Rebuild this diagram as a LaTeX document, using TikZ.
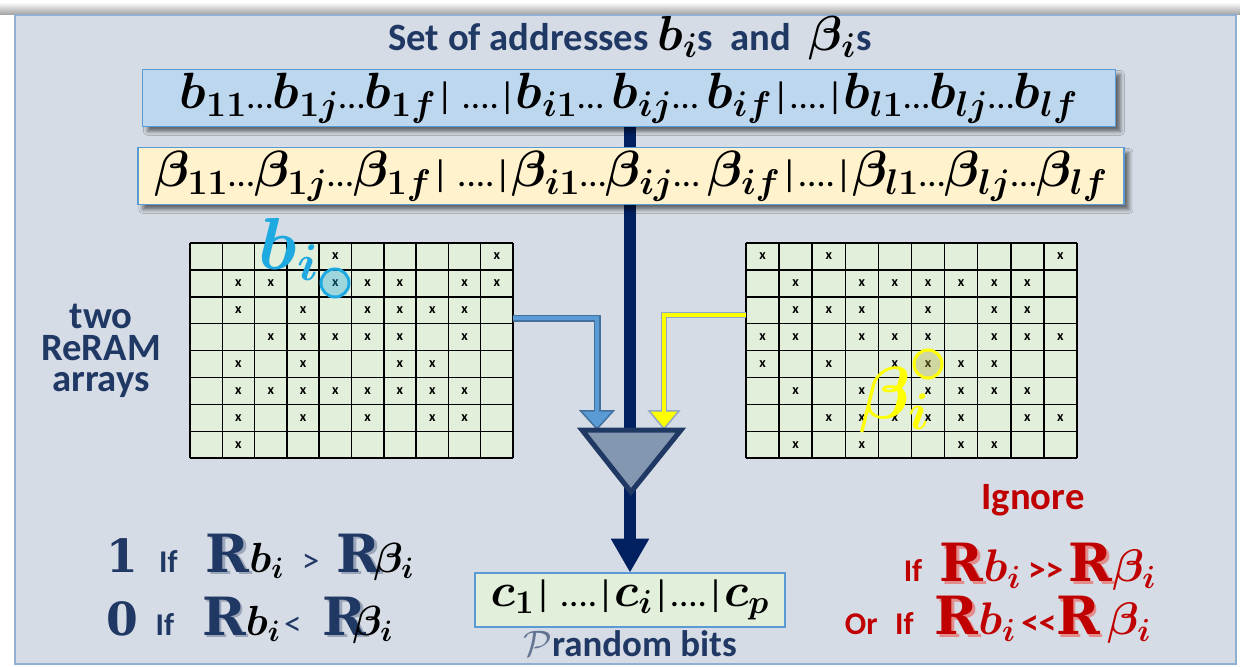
\RequirePackage{fix-cm}
\documentclass[tikz,border=0pt]{standalone}
\usepackage{fontspec}
\setmainfont{Carlito}
\newfontfamily\slabfont{DejaVu Serif}
\usepackage{amsmath}
\usepackage{bm}
\usetikzlibrary{arrows.meta,shadows.blur}

\definecolor{panelgrey}{HTML}{D6DCE5}
\definecolor{paneledge}{HTML}{8FAFD3}
\definecolor{titlenavy}{HTML}{203864}
\definecolor{barblue}{HTML}{BDD7EE}
\definecolor{baredge}{HTML}{5B9BD5}
\definecolor{baryellow}{HTML}{FFF2CC}
\definecolor{cellgreen}{HTML}{E2EFDA}
\definecolor{mainnavy}{HTML}{002060}
\definecolor{cmpfill}{HTML}{8497B0}
\definecolor{cmpedge}{HTML}{1F3864}
\definecolor{flowblue}{HTML}{5B9BD5}
\definecolor{flowedge}{HTML}{41719C}
\definecolor{flowyellow}{HTML}{FFFF00}
\definecolor{yellowedge}{HTML}{8EA9C1}
\definecolor{ringblue}{HTML}{1FA9E1}
\definecolor{ignorered}{HTML}{C00000}

\newdimen\pxu \pxu=0.02cm
\newcommand\smalltxt[1]{{\fontsize{21}{21}\selectfont\mdseries #1}}
\newcommand\mathbig{\fontsize{28}{28}\selectfont}
\newcommand\engR[1]{{\slabfont\bfseries\makebox[0pt][l]{\hspace{1.5pt}\raisebox{-1.5pt}{\color{#1!45}R}}{\color{#1}R}}}
\newcommand\blk[1]{\textcolor{black}{$\bm{#1}$}}
\newcommand\relsz[1]{{\fontsize{20}{20}\selectfont\mdseries #1}}

\begin{document}
\begin{tikzpicture}[x=0.02cm,y=-0.02cm,
    addrbar/.style={draw=baredge,line width=1.5\pxu,minimum height=57\pxu,inner sep=0pt,
      font=\fontsize{29}{29}\selectfont,
      blur shadow={shadow xshift=2.8pt,shadow yshift=-2.8pt,shadow blur radius=2.3pt,shadow opacity=55}},
    gridline/.style={black,line width=1.5\pxu},
    xmark/.style={font=\fontsize{8}{8}\selectfont\bfseries,inner sep=0pt},
    navytext/.style={text=titlenavy,font=\fontsize{22}{18}\selectfont\bfseries,align=center},
    redtext/.style={text=ignorered,font=\fontsize{18}{19}\selectfont\bfseries},
    ring/.style={circle,minimum size=28\pxu,inner sep=0pt,line width=3\pxu}]

    \useasboundingbox (0,0) rectangle (1240,666);
    \fill[white] (0,0) rectangle (1240,666);
    \shade[top color=white,bottom color=black!35] (0,2) rectangle (1240,14);
    \filldraw[fill=panelgrey,draw=paneledge,line width=2.5\pxu] (15,15) rectangle (1236,664);

    % Main data line
    \node[inner sep=0pt,minimum width=310\pxu,minimum height=54\pxu] (cbits) at (630,600) {};
    \coordinate (topin) at (630,127);
    \draw[mainnavy,line width=12\pxu,-{Triangle[width=20.4pt,length=19.3pt]}] (topin) -- (cbits.north);

    % Address bars
    \node[addrbar,fill=barblue,minimum width=973\pxu] (bbar) at (629,98)
      {$\bm{b_{11}}$\smalltxt{…}$\bm{b_{1j}}$\smalltxt{…}$\bm{b_{1f}}$\smalltxt{| ....|}$\bm{b_{i1}}$\smalltxt{… }$\bm{b_{ij}}$\smalltxt{… }$\bm{b_{if}}$\smalltxt{|....|}$\bm{b_{l1}}$\smalltxt{…}$\bm{b_{lj}}$\smalltxt{…}$\bm{b_{lf}}$};
    \node[addrbar,fill=baryellow,minimum width=986\pxu] (betabar) at (631,176)
      {$\bm{\beta_{11}}$\smalltxt{…}$\bm{\beta_{1j}}$\smalltxt{…}$\bm{\beta_{1f}}$\smalltxt{| ....|}$\bm{\beta_{i1}}$\smalltxt{…}$\bm{\beta_{ij}}$\smalltxt{… }$\bm{\beta_{if}}$\smalltxt{|....|}$\bm{\beta_{l1}}$\smalltxt{…}$\bm{\beta_{lj}}$\smalltxt{…}$\bm{\beta_{lf}}$};

    % Title
    \node[navytext] (title) at (630,38)
      {Set of addresses {\mathbig\blk{b_i}}s\ \ and\ \ {\mathbig\blk{\beta_i}}s};

    % Left ReRAM array
    \node[fill=cellgreen,inner sep=0pt,minimum width=323\pxu,minimum height=215\pxu] (leftarr) at (351.5,350.5) {};
    \foreach \c in {0,...,10}
        \draw[gridline] (190+\c*32.3,243) -- (190+\c*32.3,458);
    \foreach \r in {0,...,8}
        \draw[gridline] (190,243+\r*26.9) -- (513,243+\r*26.9);
    \foreach \c/\r in {4/0,9/0,1/1,2/1,4/1,5/1,6/1,8/1,9/1,1/2,3/2,5/2,6/2,7/2,8/2,
                       2/3,3/3,4/3,5/3,6/3,8/3,1/4,3/4,6/4,7/4,1/5,2/5,3/5,4/5,5/5,6/5,7/5,8/5,
                       1/6,3/6,5/6,7/6,8/6,1/7}
        \node[xmark] (lx\c\r) at ({206.15+\c*32.3},{256.45+\r*26.9}) {x};

    % Right ReRAM array
    \node[fill=cellgreen,inner sep=0pt,minimum width=331\pxu,minimum height=215\pxu] (rightarr) at (911.5,350.5) {};
    \foreach \c in {0,...,10}
        \draw[gridline] (746+\c*33.1,243) -- (746+\c*33.1,458);
    \foreach \r in {0,...,8}
        \draw[gridline] (746,243+\r*26.9) -- (1077,243+\r*26.9);
    \foreach \c/\r in {0/0,2/0,9/0,1/1,3/1,4/1,5/1,6/1,7/1,8/1,1/2,2/2,3/2,5/2,7/2,8/2,
                       0/3,1/3,3/3,4/3,5/3,7/3,8/3,9/3,0/4,2/4,4/4,5/4,6/4,7/4,
                       1/5,3/5,5/5,6/5,7/5,8/5,2/6,3/6,4/6,5/6,6/6,8/6,9/6,1/7,3/7,6/7,7/7}
        \node[xmark] (rx\c\r) at ({762.55+\c*33.1},{256.45+\r*26.9}) {x};

    % Selected cells
    \node[ring,draw=ringblue,fill=ringblue,fill opacity=0.35,draw opacity=1] (bring) at (335,283) {};
    \node[text=ringblue,font=\fontsize{42}{42}\selectfont,inner sep=0pt] (blabel) at (289,249) {$\bm{b_i}$};
    \node[ring,draw=flowyellow,fill=olive!70,fill opacity=0.35,draw opacity=1] (betaring) at (928,364) {};
    \node[text=flowyellow,font=\fontsize{42}{42}\selectfont,inner sep=0pt] (betalabel) at (895,400) {$\bm{\beta_i}$};

    % Comparator
    \coordinate (cmpL) at (582,430);
    \coordinate (cmpR) at (681,430);
    \coordinate (cmpT) at (631,492);
    \coordinate (cmpinL) at (597,430);
    \coordinate (cmpinR) at (664,430);
    \coordinate (lout) at (513,318);
    \coordinate (rout) at (746,315);

    \draw[flowedge,line width=7\pxu,-{Triangle[width=20.4pt,length=11.3pt,fill=flowblue,line width=0.85pt]}] (lout) -| (cmpinL);
    \draw[flowblue,line width=4\pxu,shorten >=17\pxu] (lout) -| (cmpinL);
    \draw[yellowedge,line width=6\pxu,-{Triangle[width=18.7pt,length=11.3pt,fill=flowyellow,line width=0.85pt]}] (rout) -| (cmpinR);
    \draw[flowyellow,line width=3.5\pxu,shorten >=17\pxu] (rout) -| (cmpinR);

    \filldraw[fill=cmpfill,draw=cmpedge,line width=5\pxu,line join=miter] (cmpL) -- (cmpR) -- (cmpT) -- cycle;

    % Output bits
    \node[fill=cellgreen,draw=baredge,line width=1.5\pxu,minimum width=310\pxu,minimum height=54\pxu,
          font=\fontsize{27}{27}\selectfont] (cbox) at (cbits)
      {$\bm{c_1}$\smalltxt{| ....|}$\bm{c_i}$\smalltxt{|....|}$\bm{c_p}$};
    \node[navytext,font=\fontsize{21}{18}\selectfont\bfseries] (plabel) at (630,644)
      {\textcolor{titlenavy!70}{$\mathcal{P}$}random bits};

    % Side labels
    \node[navytext] (arrlabel) at (101,351) {two\\ReRAM\\arrays};

    \node[text=titlenavy,font=\fontsize{18}{18}\selectfont\bfseries,anchor=west] (ruleone) at (100,557)
      {{\slabfont\fontsize{26}{26}\selectfont 1}\hspace{12pt}If\hspace{16pt}{\fontsize{30}{30}\selectfont\engR{titlenavy}\fontsize{24}{24}\selectfont\blk{b_i}}\hspace{10pt}\relsz{>}\hspace{10pt}{\fontsize{30}{30}\selectfont\engR{titlenavy}\hspace{-4pt}\fontsize{24}{24}\selectfont\blk{\beta_i}}};
    \node[text=titlenavy,font=\fontsize{18}{18}\selectfont\bfseries,anchor=west] (rulezero) at (100,620)
      {{\slabfont\fontsize{26}{26}\selectfont 0}\hspace{10pt}If\hspace{16pt}{\fontsize{30}{30}\selectfont\engR{titlenavy}\fontsize{24}{24}\selectfont\blk{b_i}}\hspace{2pt}\relsz{<}\hspace{12pt}{\fontsize{30}{30}\selectfont\engR{titlenavy}\hspace{-8pt}\fontsize{24}{24}\selectfont\blk{\beta_i}}};

    \node[redtext,font=\fontsize{22}{22}\selectfont\bfseries] (ignore) at (1033,500) {Ignore};
    \node[redtext] (ignoreone) at (1030,567)
      {If\hspace{10pt}{\fontsize{30}{30}\selectfont\engR{ignorered}\fontsize{26}{26}\selectfont$\bm{b_i}$}\hspace{4pt}\relsz{\bfseries >{}>}\hspace{3pt}{\fontsize{30}{30}\selectfont\engR{ignorered}\fontsize{26}{26}\selectfont$\bm{\beta_i}$}};
    \node[redtext] (ignoretwo) at (998,620)
      {Or\hspace{10pt}If\hspace{12pt}{\fontsize{30}{30}\selectfont\engR{ignorered}\fontsize{26}{26}\selectfont$\bm{b_i}$}\hspace{3pt}\relsz{\bfseries <{}<}{\fontsize{30}{30}\selectfont\engR{ignorered}\hspace{4pt}\fontsize{26}{26}\selectfont$\bm{\beta_i}$}};

\end{tikzpicture}
\end{document}
